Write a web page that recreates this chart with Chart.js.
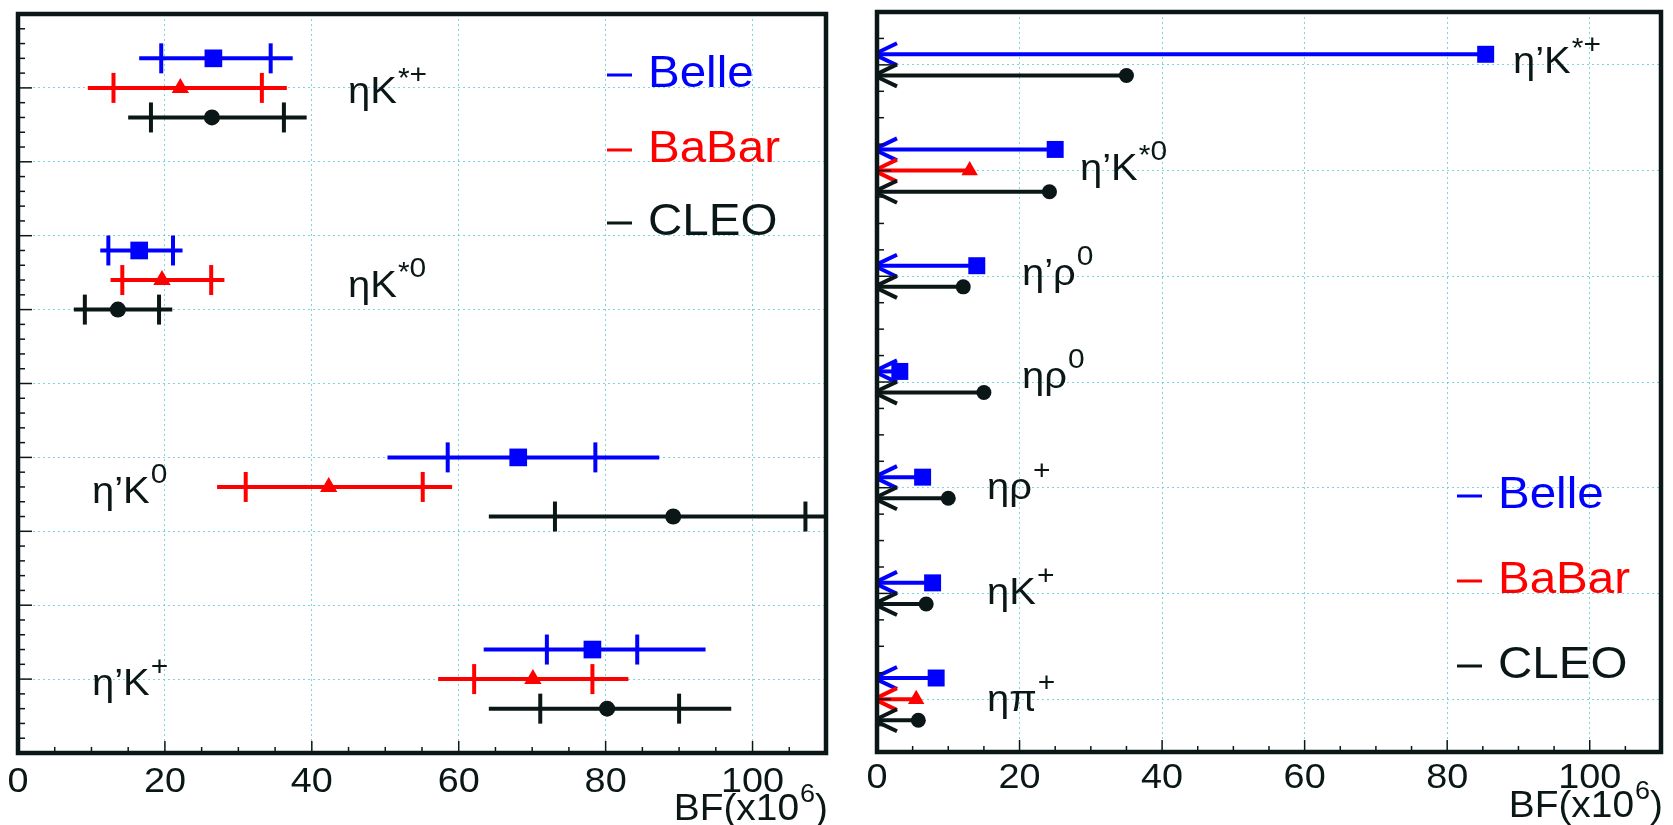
<!DOCTYPE html>
<html>
<head>
<meta charset="utf-8">
<title>BF comparison: Belle / BaBar / CLEO</title>
<script src="https://cdn.jsdelivr.net/npm/chart.js@4.4.1/dist/chart.umd.min.js"></script>
<style>
  html, body { margin: 0; padding: 0; background: #ffffff; }
  #page { position: relative; width: 1673px; height: 825px; overflow: hidden; }
  canvas { position: absolute; top: 0; }
</style>
</head>
<body>
<div id="page">
  <canvas id="leftChart" width="850" height="825" style="left:0"></canvas>
  <canvas id="rightChart" width="823" height="825" style="left:850px"></canvas>
</div>
<script>
// ---- data, BF in units of 10^-6 ----

// left panel: measurements (outer bar = total error, ticks = stat error)
const leftModeMain = ['ηK', 'ηK', 'η’K', 'η’K'];
const leftModeSup = ['*+', '*0', '0', '+'];
const leftBelleY = [9.4, 6.8, 4.0, 1.4];
const leftBabarY = [9.0, 6.4, 3.6, 1.0];
const leftCleoY = [8.6, 6.0, 3.2, 0.6];

const belleBF = [26.6, 16.5, 68.1, 78.2];
const belleStatLo = [19.5, 12.3, 58.5, 72.0];
const belleStatHi = [34.4, 21.1, 78.6, 84.3];
const belleTotLo = [16.5, 11.2, 50.3, 63.4];
const belleTotHi = [37.4, 22.4, 87.3, 93.6];

const babarBF = [22.1, 19.6, 42.3, 70.1];
const babarStatLo = [13.0, 14.2, 31.0, 62.1];
const babarStatHi = [33.2, 26.3, 55.1, 78.2];
const babarTotLo = [9.5, 12.6, 27.1, 57.2];
const babarTotHi = [36.6, 28.1, 59.1, 83.1];

const cleoBF = [26.4, 13.6, 89.2, 80.2];
const cleoStatLo = [18.1, 9.1, 73.1, 71.1];
const cleoStatHi = [36.2, 19.2, 107.2, 90.0];
const cleoTotLo = [15.0, 7.6, 64.1, 64.1];
const cleoTotHi = [39.3, 21.0, 115.0, 97.1];

// right panel: upper limits
const rightModeMain = ['η’K', 'η’K', 'η’ρ', 'ηρ', 'ηρ', 'ηK', 'ηπ'];
const rightModeSup = ['*+', '*0', '0', '0', '+', '+', '+'];
const rightBelleY = [6.1, 5.2, 4.1, 3.1, 2.1, 1.1, 0.2];
const rightBabarY = [null, 5.0, null, null, null, null, 0.0];
const rightCleoY = [5.9, 4.8, 3.9, 2.9, 1.9, 0.9, -0.2];
const belleUL = [85.4, 25.0, 14.0, 3.2, 6.4, 7.8, 8.3];
const babarUL = [null, 13.0, null, null, null, null, 5.5];
const cleoUL = [35.0, 24.2, 12.1, 15.0, 10.0, 6.9, 5.8];

const xTicks = [0, 20, 40, 60, 80, 100];
const leftYGrid = [1, 2, 3, 4, 5, 6, 7, 8, 9];
const rightYGrid = [0, 1, 2, 3, 4, 5, 6];

// ---- styles ----
const BLUE = '#0000ff';
const RED = '#ff0000';
const INK = '#0b1717';
const GRID = 'rgba(70,195,205,0.7)';
const FONT = '"Liberation Sans", Arial, sans-serif';
const SX = 1.08; // ROOT's Helvetica runs a bit wider than Liberation

function line(ctx, x1, y1, x2, y2) {
    ctx.beginPath();
    ctx.moveTo(x1, y1);
    ctx.lineTo(x2, y2);
    ctx.stroke();
}

function measure(ctx, s, size) {
    ctx.font = size + 'px ' + FONT;
    return ctx.measureText(s).width * SX;
}

function txt(ctx, s, x, y, size, color, align) {
    const w = measure(ctx, s, size);
    let x0 = x;
    if (align === 'center') x0 = x - w / 2;
    if (align === 'right') x0 = x - w;
    ctx.save();
    ctx.fillStyle = color;
    ctx.textAlign = 'left';
    ctx.textBaseline = 'alphabetic';
    ctx.translate(x0, y);
    ctx.scale(SX, 1);
    ctx.fillText(s, 0, 0);
    ctx.restore();
    return w;
}

function supLabel(ctx, x, y, main, sup, size, color) {
    const w = txt(ctx, main, x, y, size, color);
    const ss = size * 0.75;
    let sx = x + w + 1;
    // the star sits a little lower than the rest of the superscript
    if (sup[0] === '*') {
        sx += txt(ctx, '*', sx, y - size * 0.42, ss, color);
        sup = sup.slice(1);
    }
    txt(ctx, sup, sx, y - size * 0.55, ss, color);
}

// inner ticks along one axis, major ones on multiples of `major`
function drawTicks(ctx, scale, a, min, max, step, major, horizontal, lenMaj, lenMin) {
    const n = Math.round((max - min) / step);
    for (let k = 0; k <= n; k++) {
        const v = min + k * step;
        const isMajor = Math.abs(v / major - Math.round(v / major)) < 1e-6;
        const len = isMajor ? lenMaj : lenMin;
        const p = scale.getPixelForValue(v);
        if (horizontal) line(ctx, p, a.bottom, p, a.bottom - len);
        else line(ctx, a.left, p, a.left + len, p);
    }
}

function panelPlugin(p) {
    return {
        id: 'panel',
        beforeDatasetsDraw(chart) {
            const { ctx, chartArea: a, scales: { x, y } } = chart;
            ctx.save();
            ctx.beginPath();
            ctx.rect(a.left, a.top, a.right - a.left, a.bottom - a.top);
            ctx.clip();
            ctx.lineCap = 'butt';
            p.series.forEach(s => {
                ctx.strokeStyle = s.color;
                s.y.forEach((yv, i) => {
                    if (yv == null) return;
                    const py = y.getPixelForValue(yv);
                    if (p.limits) {
                        const x0 = x.getPixelForValue(0) - 3;
                        ctx.lineWidth = 4;
                        line(ctx, x0 + 2, py, x.getPixelForValue(s.ul[i]), py);
                        ctx.lineWidth = 4;
                        ctx.lineJoin = 'miter';
                        ctx.beginPath();
                        ctx.moveTo(x0 + 23, py - 11);
                        ctx.lineTo(x0, py);
                        ctx.lineTo(x0 + 23, py + 11);
                        ctx.stroke();
                    } else {
                        ctx.lineWidth = 4;
                        line(ctx, x.getPixelForValue(s.totLo[i]), py, x.getPixelForValue(s.totHi[i]), py);
                        [s.statLo[i], s.statHi[i]].forEach(v => {
                            const px = x.getPixelForValue(v);
                            line(ctx, px, py - 15, px, py + 15);
                        });
                    }
                });
            });
            ctx.restore();
        },
        afterDatasetsDraw(chart) {
            const { ctx, chartArea: a, scales: { x, y } } = chart;
            ctx.save();
            ctx.strokeStyle = INK;
            ctx.lineWidth = 1.5;
            drawTicks(ctx, x, a, 0, 110, 5, 20, true, 12, 6);
            drawTicks(ctx, y, a, p.yMin, p.yMax, p.yStep, 1, false, 14, 7);

            ctx.lineWidth = 4.5;
            ctx.strokeRect(a.left, a.top, a.right - a.left, a.bottom - a.top);

            xTicks.forEach(v => txt(ctx, String(v), x.getPixelForValue(v), p.tickBase, 35, INK, 'center'));

            // axis title BF(x10^6), right aligned at the frame
            const wMain = measure(ctx, 'BF(x10', 36);
            const wSup = measure(ctx, '6', 25);
            const wEnd = measure(ctx, ')', 36);
            let tx = a.right + 2 - (wMain + wSup + wEnd + 1);
            txt(ctx, 'BF(x10', tx, p.titleBase, 36, INK);
            txt(ctx, '6', tx + wMain + 1, p.titleBase - 18, 25, INK);
            txt(ctx, ')', tx + wMain + wSup + 1, p.titleBase, 36, INK);

            p.modeMain.forEach((m, i) => {
                supLabel(ctx, p.labelPos[i][0], p.labelPos[i][1], m, p.modeSup[i], 37, INK);
            });

            chart.data.datasets.forEach((d, i) => {
                const base = p.legendBase[i];
                ctx.strokeStyle = d.backgroundColor;
                ctx.lineWidth = 3;
                line(ctx, p.legendX, base - 12, p.legendX + 25, base - 12);
                txt(ctx, d.label, p.legendX + 41, base, 44, d.backgroundColor);
            });
            ctx.restore();
        }
    };
}

function axis(min, max, gridValues) {
    return {
        type: 'linear',
        min: min,
        max: max,
        afterBuildTicks: s => { s.ticks = gridValues.map(v => ({ value: v })); },
        ticks: { display: false },
        grid: { color: GRID, lineWidth: 1, drawTicks: false },
        border: { display: false, dash: [2, 3] }
    };
}

function toDataset(s) {
    const values = s.bf || s.ul;
    return {
        label: s.label,
        data: values.map((v, i) => (v == null ? null : { x: v, y: s.y[i] })).filter(Boolean),
        pointStyle: s.marker,
        pointRadius: s.r,
        backgroundColor: s.color,
        borderColor: s.color,
        borderWidth: 0
    };
}

const leftSeries = [
    { label: 'Belle', color: BLUE, marker: 'rect', r: 12.5, y: leftBelleY, bf: belleBF,
      statLo: belleStatLo, statHi: belleStatHi, totLo: belleTotLo, totHi: belleTotHi },
    { label: 'BaBar', color: RED, marker: 'triangle', r: 10, y: leftBabarY, bf: babarBF,
      statLo: babarStatLo, statHi: babarStatHi, totLo: babarTotLo, totHi: babarTotHi },
    { label: 'CLEO', color: INK, marker: 'circle', r: 8, y: leftCleoY, bf: cleoBF,
      statLo: cleoStatLo, statHi: cleoStatHi, totLo: cleoTotLo, totHi: cleoTotHi }
];

const rightSeries = [
    { label: 'Belle', color: BLUE, marker: 'rect', r: 12, y: rightBelleY, ul: belleUL },
    { label: 'BaBar', color: RED, marker: 'triangle', r: 9.5, y: rightBabarY, ul: babarUL },
    { label: 'CLEO', color: INK, marker: 'circle', r: 7.5, y: rightCleoY, ul: cleoUL }
];

function baseOptions(padding, yMin, yMax, yGrid) {
    return {
        responsive: false,
        animation: false,
        events: [],
        layout: { padding: padding },
        plugins: { legend: { display: false }, tooltip: { enabled: false } },
        scales: {
            x: axis(0, 110, xTicks),
            y: axis(yMin, yMax, yGrid)
        }
    };
}

new Chart(document.getElementById('leftChart'), {
    type: 'scatter',
    data: { datasets: leftSeries.map(toDataset) },
    options: baseOptions({ left: 18, right: 24, top: 14, bottom: 72 }, 0, 10, leftYGrid),
    plugins: [panelPlugin({
        series: leftSeries, limits: false,
        yMin: 0, yMax: 10, yStep: 0.2,
        tickBase: 792, titleBase: 820,
        modeMain: leftModeMain, modeSup: leftModeSup,
        labelPos: [[348, 103], [348, 297], [92, 503], [92, 695]],
        legendX: 607, legendBase: [87, 162, 235]
    })]
});

new Chart(document.getElementById('rightChart'), {
    type: 'scatter',
    data: { datasets: rightSeries.map(toDataset) },
    options: baseOptions({ left: 27, right: 4, top: 12, bottom: 73 }, -0.5, 6.5, rightYGrid),
    plugins: [panelPlugin({
        series: rightSeries, limits: true,
        yMin: -0.5, yMax: 6.5, yStep: 0.25,
        tickBase: 788, titleBase: 817,
        modeMain: rightModeMain, modeSup: rightModeSup,
        labelPos: [[663, 73], [230, 180], [172, 285], [172, 388], [137, 499], [137, 604], [137, 711]],
        legendX: 607, legendBase: [508, 593, 678]
    })]
});
</script>
</body>
</html>
